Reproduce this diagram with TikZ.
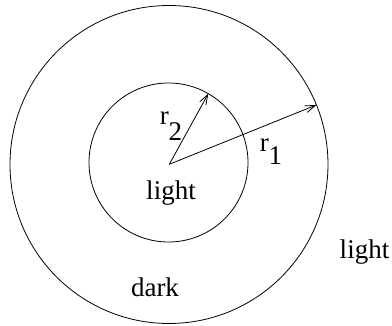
\documentclass[tikz,border=0pt]{standalone}
\usepackage{fontspec}
\setmainfont{Liberation Serif}
\usetikzlibrary{arrows.meta}
\begin{document}
\begin{tikzpicture}[x=1pt,y=-1pt,
  ring/.style={draw,circle,inner sep=0pt,outer sep=0pt,line width=0.8pt},
  radius arrow/.style={line width=0.8pt,-{Straight Barb[length=10pt,width=7pt,line width=0.8pt]}},
  lbl/.style={inner sep=0pt,anchor=base,font=\fontsize{27}{30}\selectfont}]
\useasboundingbox (0,0) rectangle (392,326);
\node[ring,minimum size=318pt] (outer) at (169,164.5) {};
\node[ring,minimum size=159pt] (inner) at (168.5,162.5) {};
\coordinate (c) at (169.3,164.3);
\draw[radius arrow] (c) -- (outer.22.5);
\draw[radius arrow] (c) -- (inner.60.6);
\node[lbl] (l2) at (171,125) {r\raisebox{-16pt}{2}};
\node[lbl] (l1) at (271,151.5) {r\raisebox{-13.5pt}{1}};
\node[lbl] (lin) at (171,200) {light};
\node[lbl] (lout) at (364.5,259) {light};
\node[lbl] (dk) at (155,297) {dark};
\end{tikzpicture}
\end{document}
